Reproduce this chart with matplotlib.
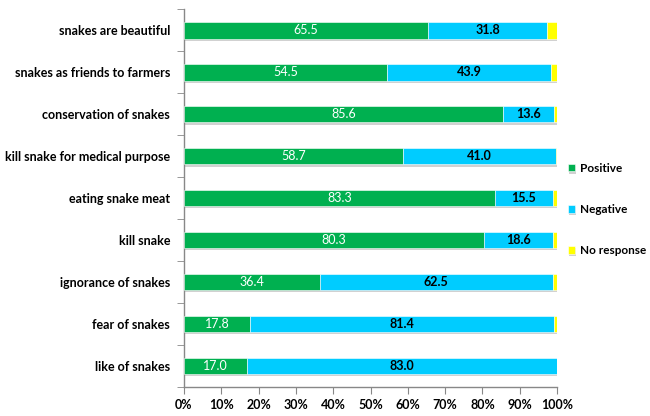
import matplotlib
matplotlib.use("Agg")
import matplotlib.pyplot as plt
import matplotlib.patheffects as pe
from matplotlib.ticker import FixedLocator, PercentFormatter
import numpy as np

# ---------------------------------- DATA ----------------------------------#
categories = ["like of snakes", "fear of snakes", "ignorance of snakes", "kill snake",
              "eating snake meat", "kill snake for medical purpose", "conservation of snakes",
              "snakes as friends to farmers", "snakes are beautiful"]
positive = [17.0, 17.8, 36.4, 80.3, 83.3, 58.7, 85.6, 54.5, 65.5]
negative = [83.0, 81.4, 62.5, 18.6, 15.5, 41.0, 13.6, 43.9, 31.8]
no_response = [0.0, 0.8, 1.1, 1.1, 1.2, 0.3, 0.8, 1.6, 2.7]

GREEN = "#00B050"
BLUE = "#00CCFF"
YELLOW = "#FFFF00"
FONT = "Lato"

plt.rcParams['font.family'] = [FONT, 'DejaVu Sans']

fig = plt.figure(figsize=(6.5, 4.16), dpi=100)
ax = fig.add_axes([0.283, 0.070, 0.574, 0.908])

y = np.arange(len(categories))
shadow = [pe.SimplePatchShadow(offset=(0.5, -1.5), shadow_rgbFace="#999999", alpha=0.45), pe.Normal()]

b1 = ax.barh(y, positive, height=0.4, color=GREEN, label="Positive", zorder=3)
b2 = ax.barh(y, negative, left=positive, height=0.4, color=BLUE, label="Negative", zorder=3)
left3 = np.array(positive) + np.array(negative)
b3 = ax.barh(y, no_response, left=left3, height=0.4, color=YELLOW, label="No response", zorder=3)
for bars in (b1, b2, b3):
    for p in bars:
        p.set_path_effects(shadow)
        p.set_edgecolor("white")
        p.set_linewidth(0.4)

# value labels inside segments
for i in range(len(categories)):
    ax.text(positive[i] / 2, y[i], f"{positive[i]:.1f}", ha="center", va="center",
            color="white", fontsize=9, zorder=4)
    ax.text(positive[i] + negative[i] / 2, y[i], f"{negative[i]:.1f}", ha="center", va="center",
            color="black", fontsize=9, fontweight="bold", zorder=4)

ax.set_xlim(0, 100)
ax.set_ylim(-0.5, len(categories) - 0.5)
ax.xaxis.set_major_locator(FixedLocator(np.arange(0, 101, 10)))
ax.xaxis.set_major_formatter(PercentFormatter(decimals=0))
ax.set_yticks(y)
ax.set_yticklabels(categories)
ax.yaxis.set_minor_locator(FixedLocator(np.arange(-0.5, len(categories), 1.0)))
ax.tick_params(axis="y", which="major", length=0, pad=10)
ax.tick_params(axis="y", which="minor", length=5, color="#888888", direction="out")
ax.tick_params(axis="x", length=5, color="#888888", direction="out")
for lab in ax.get_yticklabels() + ax.get_xticklabels():
    lab.set_fontweight("bold")
    lab.set_fontsize(9)

for s in ("top", "right"):
    ax.spines[s].set_visible(False)
for s in ("left", "bottom"):
    ax.spines[s].set_color("#888888")
    ax.spines[s].set_linewidth(1.0)

leg = fig.legend(handles=[b1, b2, b3], loc="upper left", bbox_to_anchor=(0.858, 0.634),
                 frameon=False, handlelength=0.6, handleheight=0.6, handletextpad=0.35,
                 labelspacing=2.55, prop={"weight": "bold", "size": 8.5})

fig.savefig("out.png", dpi=100)
